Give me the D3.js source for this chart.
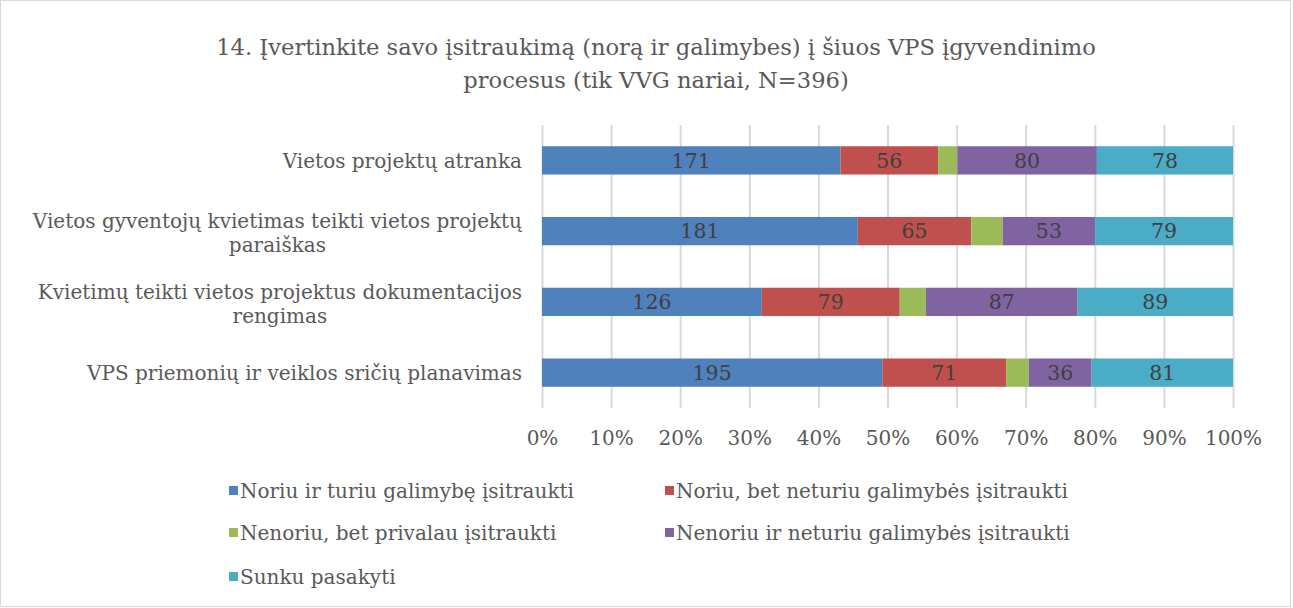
<!DOCTYPE html>
<html>
<head>
  <meta charset="utf-8">
  <title>VPS įgyvendinimo procesas</title>
  <script src="https://d3js.org/d3.v7.min.js"></script>
  <style>
    body { margin: 0; background: #fff; }
    svg text { font-family: "DejaVu Serif", "Liberation Serif", serif; }
  </style>
</head>
<body>
  <div id="chart"></div>

  <script>
    // data
    const categories = [
      ["Vietos projektų atranka"],
      ["Vietos gyventojų kvietimas teikti vietos projektų", "paraiškas"],
      ["Kvietimų teikti vietos projektus dokumentacijos", "rengimas"],
      ["VPS priemonių ir veiklos sričių planavimas"]
    ];
    const seriesNames = [
      "Noriu ir turiu galimybę įsitraukti",
      "Noriu, bet neturiu galimybės įsitraukti",
      "Nenoriu, bet privalau įsitraukti",
      "Nenoriu ir neturiu galimybės įsitraukti",
      "Sunku pasakyti"
    ];
    const noriuTuriu = [171, 181, 126, 195];
    const noriuNeturiu = [56, 65, 79, 71];
    const nenoriuPrivalau = [11, 18, 15, 13];
    const nenoriuNeturiu = [80, 53, 87, 36];
    const sunku = [78, 79, 89, 81];
    const ticks = [0, 0.1, 0.2, 0.3, 0.4, 0.5, 0.6, 0.7, 0.8, 0.9, 1];
    const colors = ["#4f81bd", "#c0504d", "#9bbb59", "#8064a2", "#4bacc6"];
    const titleLines = [
      "14. Įvertinkite savo įsitraukimą (norą ir galimybes) į šiuos VPS įgyvendinimo",
      "procesus (tik VVG nariai, N=396)"
    ];

    const W = 1293, H = 608;
    const margin = { top: 125, right: 60, bottom: 200, left: 542 };
    const width = 1233 - margin.left;
    const height = 408 - margin.top;

    const allSeries = [noriuTuriu, noriuNeturiu, nenoriuPrivalau, nenoriuNeturiu, sunku];
    const rows = categories.map((c, i) => {
      const vals = allSeries.map(s => s[i]);
      const total = d3.sum(vals);
      let acc = 0;
      return {
        idx: i,
        segs: vals.map((v, k) => {
          const seg = { k: k, v: v, x0: acc / total, x1: (acc + v) / total };
          acc += v;
          return seg;
        })
      };
    });

    const svg = d3.select("#chart").append("svg")
      .attr("width", W)
      .attr("height", H);

    svg.append("rect")
      .attr("x", 0.5).attr("y", 0.5)
      .attr("width", W - 3).attr("height", H - 2)
      .attr("fill", "#fff")
      .attr("stroke", "#d9d9d9");

    // title
    svg.append("g").selectAll("text")
      .data(titleLines)
      .join("text")
      .attr("x", 656)
      .attr("y", (d, i) => 55 + i * 33)
      .attr("text-anchor", "middle")
      .attr("fill", "#595959")
      .style("font-size", "22.6px")
      .text(d => d);

    const g = svg.append("g")
      .attr("transform", "translate(" + margin.left + "," + margin.top + ")");

    const x = d3.scaleLinear().domain([0, 1]).range([0, width]);
    const y = d3.scaleBand()
      .domain(d3.range(categories.length))
      .range([0, height])
      .paddingInner(0.6)
      .paddingOuter(0.3);

    // gridlines + percent labels
    const xAxis = g.append("g")
      .attr("transform", "translate(0," + height + ")")
      .call(d3.axisBottom(x)
        .tickValues(ticks)
        .tickFormat(d3.format(".0%"))
        .tickSize(-height)
        .tickPadding(23));
    xAxis.select(".domain").remove();
    xAxis.selectAll("line").attr("stroke", "#d9d9d9").attr("stroke-width", 2);
    xAxis.selectAll("text")
      .attr("fill", "#595959")
      .style("font-size", "20px")
      .style("font-family", "DejaVu Serif, serif");

    // bars
    const rowG = g.selectAll(".row")
      .data(rows)
      .join("g")
      .attr("class", "row")
      .attr("transform", d => "translate(0," + y(d.idx) + ")");

    rowG.selectAll("rect")
      .data(d => d.segs)
      .join("rect")
      .attr("x", d => x(d.x0))
      .attr("width", d => x(d.x1) - x(d.x0))
      .attr("height", y.bandwidth())
      .attr("fill", d => colors[d.k]);

    rowG.selectAll(".lbl")
      .data(d => d.segs.filter(s => x(s.x1) - x(s.x0) > 40))
      .join("text")
      .attr("class", "lbl")
      .attr("x", d => (x(d.x0) + x(d.x1)) / 2)
      .attr("y", y.bandwidth() / 2)
      .attr("dy", "0.36em")
      .attr("text-anchor", "middle")
      .attr("fill", "#404040")
      .style("font-size", "20.5px")
      .text(d => d.v);

    // category labels
    const catG = g.selectAll(".cat")
      .data(categories)
      .join("text")
      .attr("class", "cat")
      .attr("text-anchor", "end")
      .attr("fill", "#595959")
      .style("font-size", "20px")
      .attr("y", (d, i) => y(i) + y.bandwidth() / 2 - (d.length - 1) * 10);
    catG.selectAll("tspan")
      .data(d => d)
      .join("tspan")
      .attr("x", -20)
      .attr("dy", (d, i) => i === 0 ? "0.36em" : "24px")
      .text(d => d);
    // second line of wrapped labels sits centred under the first
    catG.each(function(d) {
      if (d.length < 2) return;
      const tspans = d3.select(this).selectAll("tspan").nodes();
      const w0 = tspans[0].getComputedTextLength();
      d3.select(tspans[1]).attr("x", -20 - w0 / 2).attr("text-anchor", "middle");
    });

    // legend
    const legendPos = [[229, 491], [665, 491], [229, 533], [665, 533], [229, 577]];
    const leg = svg.append("g").selectAll("g")
      .data(seriesNames)
      .join("g")
      .attr("transform", (d, i) => "translate(" + legendPos[i][0] + "," + legendPos[i][1] + ")");
    leg.append("rect")
      .attr("x", 0).attr("y", -5)
      .attr("width", 9).attr("height", 9)
      .attr("fill", (d, i) => colors[i]);
    leg.append("text")
      .attr("x", 11)
      .attr("dy", "0.36em")
      .attr("fill", "#595959")
      .style("font-size", "20px")
      .text(d => d);
  </script>
</body>
</html>
